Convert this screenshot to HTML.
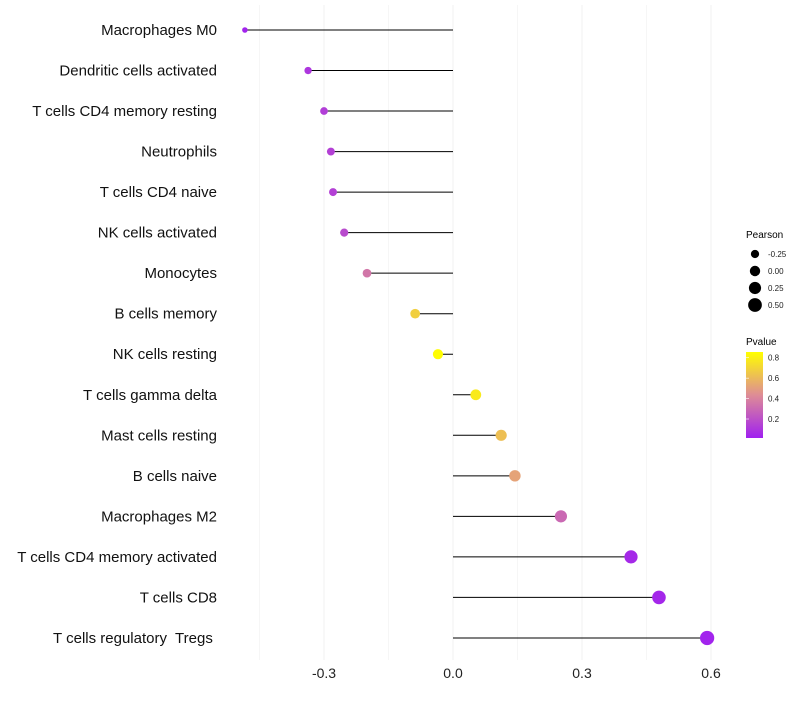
<!DOCTYPE html>
<html><head><meta charset="utf-8"><style>
body{margin:0;background:#fff;font-family:"Liberation Sans",sans-serif;}
text{white-space:pre;}
</style></head><body>
<svg id="chart" width="800" height="700" xmlns="http://www.w3.org/2000/svg" font-family="Liberation Sans, sans-serif">
<g id="grid"></g><g id="marks"></g><g id="ylabels"></g><g id="xlabels"></g>
<g id="legend">
<text x="746" y="238" font-size="10" fill="#000">Pearson</text>
<g id="sizeLegend"></g>
<text x="746" y="345" font-size="10" fill="#000">Pvalue</text>
<defs><linearGradient id="pg" x1="0" y1="1" x2="0" y2="0">
<stop offset="0" stop-color="#a020f0"/><stop offset="0.5" stop-color="#de8c96"/><stop offset="1" stop-color="#ffff00"/></linearGradient></defs>
<rect x="746" y="352" width="17" height="86" fill="url(#pg)"/>
<g id="cbLabels"></g>
</g>
</svg>
<script>
const categories=["Macrophages M0","Dendritic cells activated","T cells CD4 memory resting","Neutrophils","T cells CD4 naive","NK cells activated","Monocytes","B cells memory","NK cells resting","T cells gamma delta","Mast cells resting","B cells naive","Macrophages M2","T cells CD4 memory activated","T cells CD8","T cells regulatory  Tregs "];
const pearson=[-0.484,-0.337,-0.300,-0.284,-0.279,-0.253,-0.200,-0.088,-0.035,0.053,0.112,0.144,0.251,0.414,0.479,0.591];
const pvalue=[0.03,0.10,0.13,0.14,0.14,0.18,0.35,0.68,0.85,0.78,0.62,0.52,0.30,0.05,0.04,0.03];
const xTicks=[-0.3,0.0,0.3,0.6];
const xTickLabels=["-0.3","0.0","0.3","0.6"];
const xMinor=[-0.45,-0.15,0.15,0.45];
const sizeBreaks=[-0.25,0,0.25,0.5];
const sizeLabels=["-0.25","0.00","0.25","0.50"];
const cbBreaks=[0.2,0.4,0.6,0.8];
const NS="http://www.w3.org/2000/svg";
const xs=v=>453+v*430;
const ys=i=>30+i*40.53;
const rs=v=>Math.sqrt(Math.max(3,27+40*v));
const pMin=0.014,pMax=0.856;
const cy=p=>438-(p-pMin)/(pMax-pMin)*86;
function col(p){let t=Math.min(1,Math.max(0,(p-pMin)/(pMax-pMin)));
const a=[160,32,240],m=[222,140,150],b=[255,255,0];let c0,c1,u;
if(t<0.5){c0=a;c1=m;u=t/0.5}else{c0=m;c1=b;u=(t-0.5)/0.5}
return "rgb("+c0.map((x,i)=>Math.round(x+(c1[i]-x)*u)).join(",")+")";}
function mk(tag,attrs,parent){const e=document.createElementNS(NS,tag);for(const k in attrs)e.setAttribute(k,attrs[k]);document.getElementById(parent).appendChild(e);return e;}
xMinor.concat(xTicks).forEach(v=>{const l=mk("line",{x1:xs(v),x2:xs(v),y1:5,y2:660,stroke:"#f0f0f0","stroke-width":xTicks.includes(v)?1:0.6},"grid");

});
xTicks.forEach((v,i)=>{const t=mk("text",{x:xs(v),y:678,"font-size":14,"text-anchor":"middle",fill:"#222"},"xlabels");t.textContent=xTickLabels[i];

});
categories.forEach((c,i)=>{const y=ys(i);
const l=mk("line",{x1:xs(0),x2:xs(pearson[i]),y1:y,y2:y,stroke:"#000","stroke-width":1},"marks");


const d=mk("circle",{cx:xs(pearson[i]),cy:y,r:rs(pearson[i]),fill:col(pvalue[i])},"marks");


const t=mk("text",{x:217,y:y+5,"font-size":15,"text-anchor":"end",fill:"#111"},"ylabels");t.textContent=c;

});
sizeBreaks.forEach((v,i)=>{const y=254+i*17;
const d=mk("circle",{cx:755,cy:y,r:rs(v),fill:"#000"},"sizeLegend");


const t=mk("text",{x:768,y:y+3,"font-size":8,fill:"#222"},"sizeLegend");t.textContent=sizeLabels[i];

});
cbBreaks.forEach(v=>{const y=cy(v);
const t=mk("text",{x:768,y:y+3,"font-size":8,fill:"#222"},"cbLabels");t.textContent=v.toFixed(1);


const k=mk("line",{x1:746,x2:749,y1:y,y2:y,stroke:"#fff","stroke-width":0.6},"cbLabels");

});
</script>
</body></html>
